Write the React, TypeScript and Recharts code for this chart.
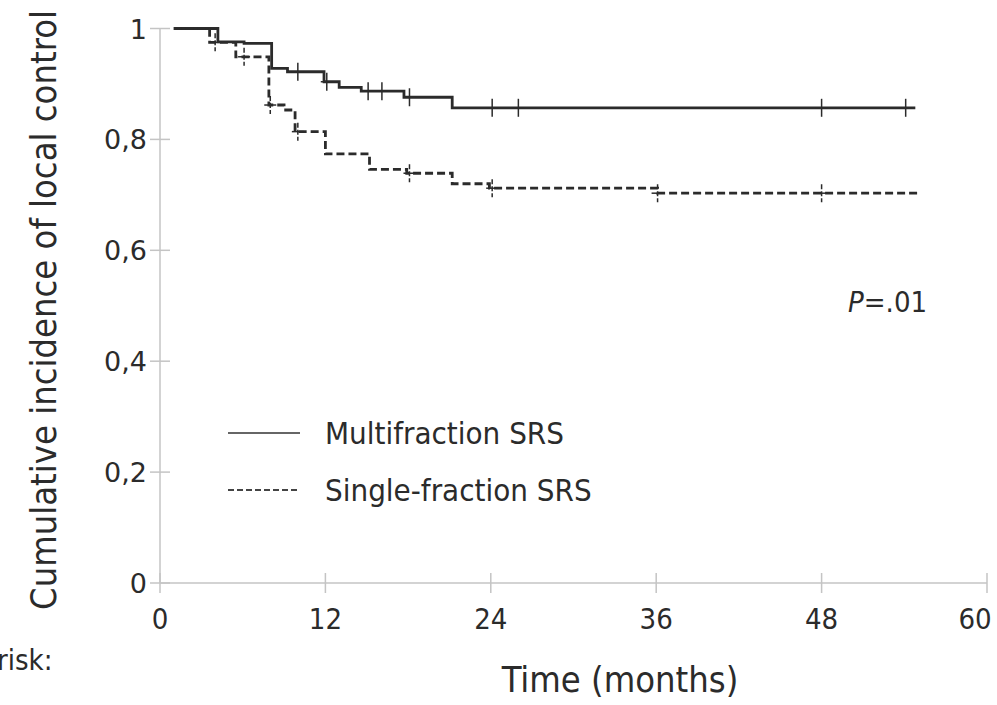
import { ComposedChart, Line, Scatter, XAxis, YAxis, Legend } from 'recharts';

// time in months, cumulative incidence of local control
const xTicks = [0, 12, 24, 36, 48, 60];
const yTicks = [0, 0.2, 0.4, 0.6, 0.8, 1];

const multiSteps = [
  { t: 1, v: 1 },
  { t: 4.2, v: 0.976 },
  { t: 6.1, v: 0.973 },
  { t: 8.1, v: 0.928 },
  { t: 9.25, v: 0.922 },
  { t: 11.9, v: 0.904 },
  { t: 13.0, v: 0.894 },
  { t: 14.6, v: 0.887 },
  { t: 17.7, v: 0.876 },
  { t: 21.2, v: 0.857 },
  { t: 54.8, v: 0.857 },
];
const multiCensored = [
  { t: 10.0, v: 0.922 },
  { t: 12.1, v: 0.904 },
  { t: 15.1, v: 0.887 },
  { t: 16.1, v: 0.887 },
  { t: 18.1, v: 0.876 },
  { t: 24.1, v: 0.857 },
  { t: 26.0, v: 0.857 },
  { t: 48.0, v: 0.857 },
  { t: 54.1, v: 0.857 },
];

const singleSteps = [
  { t: 1, v: 1 },
  { t: 3.6, v: 0.975 },
  { t: 5.5, v: 0.949 },
  { t: 7.9, v: 0.862 },
  { t: 9.0, v: 0.853 },
  { t: 9.8, v: 0.814 },
  { t: 12.0, v: 0.774 },
  { t: 15.2, v: 0.746 },
  { t: 17.9, v: 0.739 },
  { t: 21.2, v: 0.72 },
  { t: 23.9, v: 0.712 },
  { t: 36.1, v: 0.703 },
  { t: 55.0, v: 0.703 },
];
const singleCensored = [
  { t: 4.0, v: 0.975 },
  { t: 6.1, v: 0.949 },
  { t: 8.0, v: 0.862 },
  { t: 10.0, v: 0.814 },
  { t: 18.1, v: 0.739 },
  { t: 24.1, v: 0.712 },
  { t: 36.1, v: 0.703 },
  { t: 48.0, v: 0.703 },
];

const seriesNames = ['Multifraction SRS', 'Single-fraction SRS'];

const INK = '#2b2b2b';
const AXIS = '#c4c4c4';
const COND = "'DejaVu Sans Condensed', 'DejaVu Sans', sans-serif";
const SANS = "'DejaVu Sans', sans-serif";

function XTick(props: any) {
  const { x, y, payload } = props;
  // keep the last label inside the picture
  const lx = Math.min(x, 975);
  return (
    <g>
      <line x1={x} x2={x} y1={y - 10} y2={y + 10} stroke={AXIS} strokeWidth={1.5} />
      <text x={lx} y={y + 46} textAnchor="middle" fontFamily={COND} fontSize={29} fill={INK}>
        {payload.value}
      </text>
    </g>
  );
}

function YTick(props: any) {
  const { x, y, payload } = props;
  const label = payload.value === 0 || payload.value === 1 ? String(payload.value) : String(payload.value).replace('.', ',');
  return (
    <g>
      <line x1={x - 10} x2={x + 10} y1={y} y2={y} stroke={AXIS} strokeWidth={1.5} />
      <text x={x - 13} y={y + 10} textAnchor="end" fontFamily={SANS} fontSize={27} fill={INK}>
        {label}
      </text>
    </g>
  );
}

function CensorMark(props: any) {
  const { cx, cy, dashed } = props;
  if (cx == null || cy == null) return null;
  return (
    <g>
      <line
        x1={cx}
        x2={cx}
        y1={cy - 9}
        y2={cy + 9}
        stroke={INK}
        strokeWidth={1.5}
        strokeDasharray={dashed ? '5 2' : undefined}
      />
      <line x1={cx - 6} x2={cx + 6} y1={cy} y2={cy} stroke={INK} strokeWidth={1.5} />
    </g>
  );
}

function LegendBox() {
  return (
    <svg width={400} height={100}>
      <line x1={0} x2={72} y1={12} y2={12} stroke="#666" strokeWidth={2} />
      <text x={97} y={23} fontFamily={COND} fontSize={31} fill={INK}>
        {seriesNames[0]}
      </text>
      <line x1={0} x2={72} y1={69} y2={69} stroke="#444" strokeWidth={2} strokeDasharray="6 3" />
      <text x={97} y={80} fontFamily={COND} fontSize={31} fill={INK}>
        {seriesNames[1]}
      </text>
    </svg>
  );
}

export default function App() {
  return (
    <div style={{ position: 'absolute', left: 0, top: 0, width: 997, height: 705, background: '#fff' }}>
      <ComposedChart
        width={997}
        height={705}
        margin={{ top: 28.5, right: 10, bottom: 82, left: 0 }}
      >
        <XAxis
          type="number"
          dataKey="t"
          domain={[0, 60]}
          ticks={xTicks}
          allowDataOverflow
          height={40}
          stroke={AXIS}
          strokeWidth={1.5}
          tickLine={false}
          tickSize={0}
          tickMargin={0}
          tick={<XTick />}
        />
        <YAxis
          type="number"
          dataKey="v"
          domain={[0, 1]}
          ticks={yTicks}
          width={160}
          stroke={AXIS}
          strokeWidth={1.5}
          tickLine={false}
          tickSize={0}
          tickMargin={0}
          tick={<YTick />}
        />
        <Legend
          layout="horizontal"
          verticalAlign="middle"
          align="center"
          content={<LegendBox />}
          wrapperStyle={{ position: 'absolute', left: 228, top: 421, width: 400, height: 100 }}
        />
        <Line
          data={multiSteps}
          dataKey="v"
          name={seriesNames[0]}
          type="stepAfter"
          stroke={INK}
          strokeWidth={2.8}
          dot={false}
          activeDot={false}
          isAnimationActive={false}
          legendType="none"
        />
        <Line
          data={singleSteps}
          dataKey="v"
          name={seriesNames[1]}
          type="stepAfter"
          stroke={INK}
          strokeWidth={2.8}
          strokeDasharray="8 4"
          dot={false}
          activeDot={false}
          isAnimationActive={false}
          legendType="none"
        />
        <Scatter
          data={multiCensored}
          dataKey="v"
          shape={<CensorMark />}
          isAnimationActive={false}
          legendType="none"
        />
        <Scatter
          data={singleCensored}
          dataKey="v"
          shape={<CensorMark dashed />}
          isAnimationActive={false}
          legendType="none"
        />
      </ComposedChart>
      <svg
        width={997}
        height={705}
        style={{ position: 'absolute', left: 0, top: 0, pointerEvents: 'none' }}
      >
        <text
          x={56}
          y={310}
          textAnchor="middle"
          transform="rotate(-90 56 310)"
          fontFamily={COND}
          fontSize={36}
          fill={INK}
        >
          Cumulative incidence of local control
        </text>
        <text x={620} y={692} textAnchor="middle" fontFamily={COND} fontSize={36} fill={INK}>
          Time (months)
        </text>
        <text x={848} y={312} fontFamily={COND} fontSize={29} fill={INK}>
          <tspan fontStyle="italic">P</tspan>=.01
        </text>
        <text x={-3} y={670} fontFamily={COND} fontSize={29} fill={INK}>
          risk:
        </text>
      </svg>
    </div>
  );
}
